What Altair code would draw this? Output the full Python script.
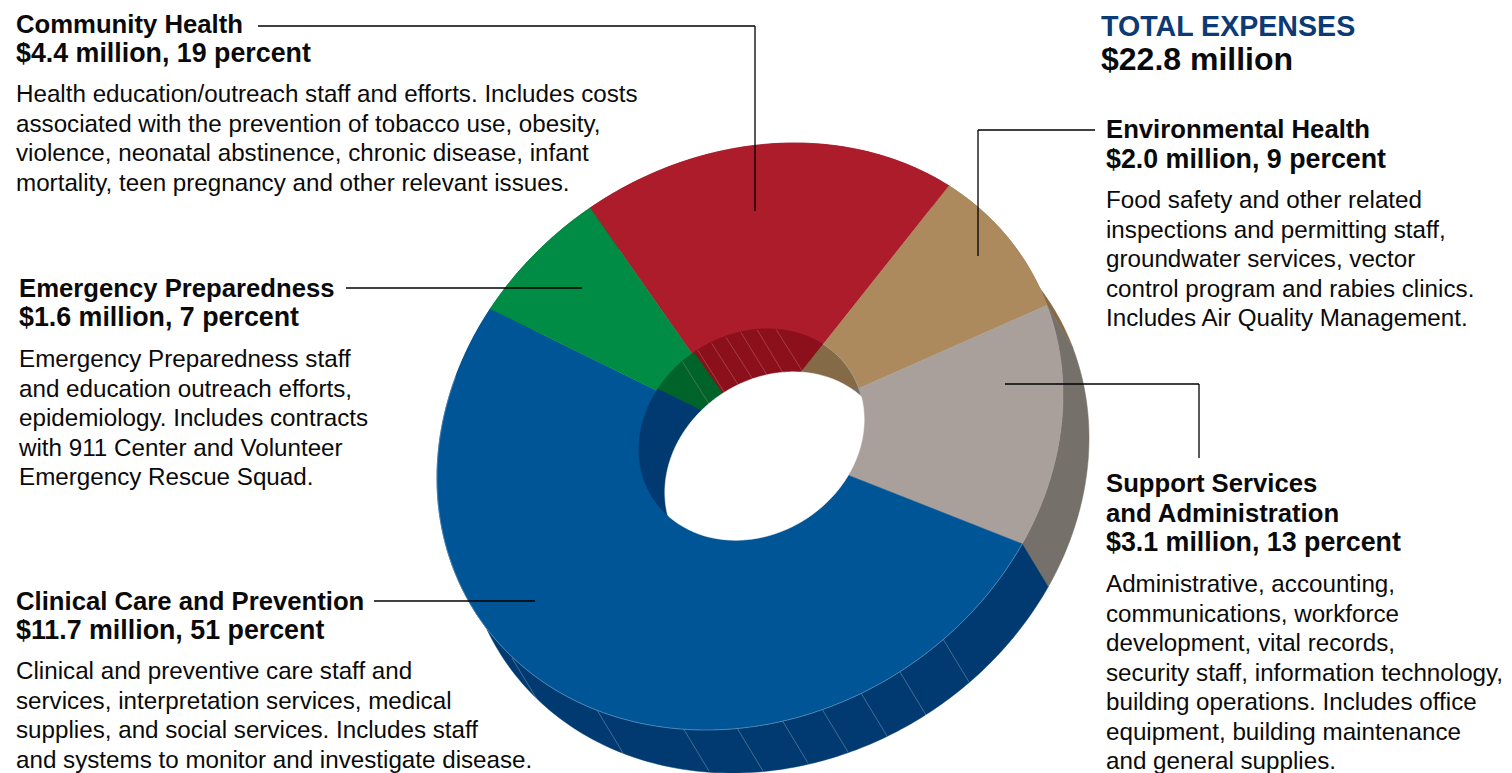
import altair as alt
import numpy as np

M = 8  # page margin
names = ["Community Health", "Environmental Health", "Support Services", "Clinical Care", "Emergency Preparedness"]
# slice sizes as drawn in the picture (percent of the ring)
drawn_share = [20.4, 7.7, 12.6, 51.3, 8.0]
top_colors = ["#AC1C2B", "#AC8A5E", "#A9A09C", "#005596", "#008C44"]
wall_colors = ["#8C0F1C", "#856A48", "#76706B", "#003A70", "#006329"]
ROT = -35.0

# tilted ring: quadratic form of the rim ellipse
Q = np.array([[1.0415e-5, 1.571e-6], [1.571e-6, 1.1846e-5]])
C_OUT = np.array([750.0, 436.5])
C_IN = np.array([751.5, 434.5])
DEPTH = np.array([26.0, 43.0])
S_IN = 0.36

edges = ROT + 3.6 * np.cumsum([0] + drawn_share)


def rim(a1, a2, s, c):
    th = np.radians(np.linspace(a1, a2, max(3, int(abs(a2 - a1)) + 2)))
    u = np.stack([np.sin(th), -np.cos(th)], axis=1)
    r = s / np.sqrt(np.einsum("ij,jk,ik->i", u, Q, u))
    return c + u * r[:, None]


def feature(coords, color, kind="Polygon"):
    pts = [[float(x) - M, float(y) - M] for x, y in coords]
    if kind == "Polygon":
        pts = pts + [pts[0]]
        geom = {"type": "Polygon", "coordinates": [pts]}
    else:
        geom = {"type": "LineString", "coordinates": pts}
    return {"type": "Feature", "properties": {"color": color}, "geometry": geom}


def sector(i, s, c, color):
    return feature(np.vstack([[c], rim(edges[i], edges[i + 1], s, c)]), color)


def band(i, color):
    a = rim(edges[i], edges[i + 1], 1.0, C_OUT)
    return feature(np.vstack([a, a[::-1] + DEPTH]), color)


def hole_outline():
    P = np.array([766.0, 455.0])
    out = []
    for t in np.radians(np.arange(0, 360, 1.0)):
        u = np.array([np.sin(t), -np.cos(t)])
        rs = []
        for c in (C_IN, C_IN + DEPTH):
            a = u @ Q @ u
            b = 2 * u @ Q @ (P - c)
            cc = (P - c) @ Q @ (P - c) - S_IN ** 2
            rs.append((-b + np.sqrt(b * b - 4 * a * cc)) / (2 * a))
        out.append(P + u * min(rs))
    return np.array(out)


def shapes(features, width=0.5):
    return (alt.Chart(alt.Data(values=features)).mark_geoshape(strokeWidth=width)
            .encode(fill=alt.Fill("properties.color:N", scale=None),
                    stroke=alt.Stroke("properties.color:N", scale=None))
            .project(type="identity", scale=1, translate=[0, 0]))


def lines(features, color, width, op):
    return (alt.Chart(alt.Data(values=features))
            .mark_geoshape(filled=False, stroke=color, strokeWidth=width, opacity=op)
            .project(type="identity", scale=1, translate=[0, 0]))


def seams(pairs):
    return [feature(p, "#fff", "LineString") for p in pairs]


def text(lines_, x, y, size, bold=False, color="#0A0A0A", lh=29.5):
    return (alt.Chart(alt.Data(values=[{"a": 0}]))
            .mark_text(text=lines_, align="left", baseline="alphabetic", font="Liberation Sans",
                       fontSize=size, fontWeight="bold" if bold else "normal",
                       color=color, lineHeight=lh)
            .encode(x=alt.value(x - M), y=alt.value(y - M)))


def rule(x1, y1, x2, y2):
    return (alt.Chart(alt.Data(values=[{"a": 0}])).mark_rule(color="#000000", strokeWidth=1.3)
            .encode(x=alt.value(x1 - M), x2=alt.value(x2 - M), y=alt.value(y1 - M), y2=alt.value(y2 - M)))


layers = []
layers.append(shapes([band(i, wall_colors[i]) for i in [0, 4, 1, 2, 3]]))
outer_seams = [((p[0], p[1]), (p[0] + 26, p[1] + 43)) for p in
               [(512, 658), (597, 710), (683, 728), (737, 728), (782, 720), (822, 709), (861, 693), (900, 672), (943, 639)]]
layers.append(lines(seams(outer_seams), "#C9D6E4", 0.6, 0.55))
layers.append(shapes([sector(i, 1.0, C_OUT, top_colors[i]) for i in range(5)]))
layers.append(lines([feature(rim(edges[3], edges[3] + 170, 1.0, C_OUT), "#fff", "LineString")], "#A9C2DA", 0.7, 0.6))
# inner wall
layers.append(shapes([sector(i, S_IN, C_IN, wall_colors[i]) for i in range(5)]))
inner_seams = [((a / 3 + 620, b / 3 + 310), (c / 3 + 620, d / 3 + 310)) for a, b, c, d in
               [(233, 120, 315, 250), (275, 100, 357, 228), (318, 82, 400, 210), (363, 68, 443, 198),
                (412, 60, 490, 190), (468, 58, 550, 188), (187, 155, 268, 283)]]
layers.append(lines(seams(inner_seams), "#D8A0A6", 0.6, 0.55))
layers.append(lines([feature(rim(edges[3] + 100, edges[1], S_IN, C_IN), "#fff", "LineString")], "#D9D9D9", 0.7, 0.6))
layers.append(shapes([feature(hole_outline(), "#FFFFFF")]))

for r in [(258, 26, 755, 26), (755, 26, 755, 211), (346, 288, 582, 288), (374, 601, 535, 601),
          (1095, 130, 978, 130), (978, 130, 978, 256), (1005, 384, 1199, 384), (1199, 384, 1199, 458)]:
    layers.append(rule(*r))

H, V, B = 25.7, 26.8, 24.2
layers += [
    text(["TOTAL EXPENSES"], 1101, 36, 28.6, True, "#0B3A75"),
    text(["$22.8 million"], 1101, 70, 32, True),
    text(["Community Health"], 16, 33, H, True),
    text(["$4.4 million, 19 percent"], 16, 62, V, True),
    text(["Health education/outreach staff and efforts. Includes costs",
          "associated with the prevention of tobacco use, obesity,",
          "violence, neonatal abstinence, chronic disease, infant",
          "mortality, teen pregnancy and other relevant issues."], 16, 102, B),
    text(["Emergency Preparedness"], 19, 297, H, True),
    text(["$1.6 million, 7 percent"], 19, 326, V, True),
    text(["Emergency Preparedness staff", "and education outreach efforts,",
          "epidemiology. Includes contracts", "with 911 Center and Volunteer",
          "Emergency Rescue Squad."], 19, 367, B),
    text(["Clinical Care and Prevention"], 16, 610, H, True),
    text(["$11.7 million, 51 percent"], 16, 639, V, True),
    text(["Clinical and preventive care staff and", "services, interpretation services, medical",
          "supplies, and social services. Includes staff",
          "and systems to monitor and investigate disease."], 16, 679, B),
    text(["Environmental Health"], 1106, 138, H, True),
    text(["$2.0 million, 9 percent"], 1106, 168, V, True),
    text(["Food safety and other related", "inspections and permitting staff,",
          "groundwater services, vector", "control program and rabies clinics.",
          "Includes Air Quality Management."], 1106, 208, B),
    text(["Support Services", "and Administration"], 1106, 492, H, True),
    text(["$3.1 million, 13 percent"], 1106, 551, V, True),
    text(["Administrative, accounting,", "communications, workforce", "development, vital records,",
          "security staff, information technology,", "building operations. Includes office",
          "equipment, building maintenance", "and general supplies."], 1106, 592, B),
]

chart = (alt.layer(*layers)
         .properties(width=1496, height=765, padding=0,
                     autosize=alt.AutoSizeParams(type="none"))
         .configure_view(stroke=None))
chart.save("out.html", embed_options={"renderer": "svg", "actions": False})
